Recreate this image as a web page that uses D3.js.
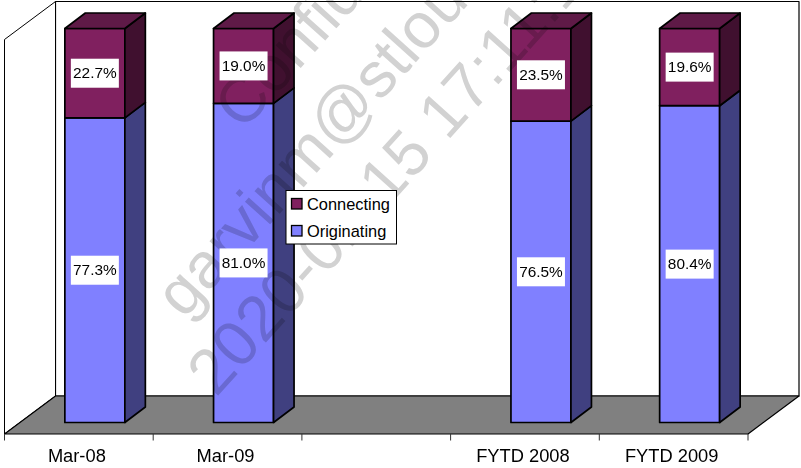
<!DOCTYPE html>
<html>
<head>
<meta charset="utf-8">
<script src="https://cdn.jsdelivr.net/npm/d3@7"></script>
<style>
body { margin: 0; background: #fff; }
text { font-family: "Liberation Sans", Arial, sans-serif; fill: #000; }
.watermark { mix-blend-mode: multiply; }
</style>
</head>
<body>
<svg id="chart" width="801" height="468" style="display:block"></svg>
<script>
var categories = ["Mar-08", "Mar-09", "", "FYTD 2008", "FYTD 2009"];
var originating = [77.3, 81.0, null, 76.5, 80.4];
var connecting = [22.7, 19.0, null, 23.5, 19.6];
var legendNames = ["Connecting", "Originating"];
var watermarkLines = ["Confidential", "garvinm@stlouisfed", "2020-01-15 17:11:15"];

var colors = {
  originating: "#8080ff", originatingSide: "#404080",
  connecting: "#80205f", connectingSide: "#40102f", connectingTop: "#5f1a47"
};

var svg = d3.select("#chart");

// 3d offset between the front plane and the back wall
var depth = {x: 51, y: -38};
var barDepth = {x: 20.5, y: -15.5};
var floorY = 434;

var x = d3.scaleBand().domain(d3.range(categories.length)).range([4.5, 748]);
var y = d3.scaleLinear().domain([0, 100]).range([422.5, 28.5]);
var barWidth = 60;
var barShift = 16; // bars sit a little into the floor, so right of the band centre

function poly(points, fill, sw) {
  return svg.append("polygon")
    .attr("points", points.map(function(p) { return p.join(","); }).join(" "))
    .attr("fill", fill)
    .attr("stroke", "#000")
    .attr("stroke-width", sw)
    .attr("stroke-linejoin", "round");
}

// walls
var left = x.range()[0], right = x.range()[1];
var wallTop = 1.5;
var wallBottom = floorY + depth.y;
poly([[left + depth.x, wallTop], [right + depth.x, wallTop], [right + depth.x, wallBottom], [left + depth.x, wallBottom]], "#fff", 1.2);
poly([[left, wallTop - depth.y], [left + depth.x, wallTop], [left + depth.x, wallBottom], [left, floorY]], "#fff", 1);
poly([[left, floorY], [right, floorY], [right + depth.x, wallBottom], [left + depth.x, wallBottom]], "#808080", 1.2);

// axis ticks and labels
var axisG = svg.append("g");
axisG.selectAll("line").data(d3.range(categories.length + 1)).enter().append("line")
  .attr("x1", function(i) { return left + i * x.step(); })
  .attr("x2", function(i) { return left + i * x.step(); })
  .attr("y1", floorY)
  .attr("y2", floorY + 6.5)
  .attr("stroke", "#333")
  .attr("stroke-width", 1);

axisG.selectAll("text").data(categories).enter().append("text")
  .attr("x", function(d, i) { return x(i) + x.bandwidth() / 2 - 2; })
  .attr("y", 461.5)
  .attr("text-anchor", "middle")
  .attr("font-size", 18.3)
  .text(function(d) { return d; });

// stacked bars
function barCentre(i) {
  return x(i) + x.bandwidth() / 2 + barShift;
}

function drawSegment(i, y0, y1, front, side, top) {
  var cx = barCentre(i);
  var x0 = cx - barWidth / 2, x1 = cx + barWidth / 2;
  var yb = y(y0), yt = y(y1);
  poly([[x0, yb], [x1, yb], [x1, yt], [x0, yt]], front, 1.7);
  poly([[x1, yb], [x1 + barDepth.x, yb + barDepth.y], [x1 + barDepth.x, yt + barDepth.y], [x1, yt]], side, 1.7);
  if (top) {
    poly([[x0, yt], [x1, yt], [x1 + barDepth.x, yt + barDepth.y], [x0 + barDepth.x, yt + barDepth.y]], top, 1.7);
  }
}

function drawLabel(i, y0, y1, label) {
  var cx = barCentre(i);
  var my = (y(y0) + y(y1)) / 2;
  svg.append("rect")
    .attr("x", cx - 24)
    .attr("y", my - 14.5)
    .attr("width", 48)
    .attr("height", 29)
    .attr("fill", "#fff");
  svg.append("text")
    .attr("x", cx)
    .attr("y", my + 5)
    .attr("text-anchor", "middle")
    .attr("font-size", 15.4)
    .text(label);
}

categories.forEach(function(c, i) {
  if (originating[i] == null) return;
  drawSegment(i, 0, originating[i], colors.originating, colors.originatingSide, null);
  drawSegment(i, originating[i], originating[i] + connecting[i], colors.connecting, colors.connectingSide, colors.connectingTop);
});

// watermark goes over the bars but under the data labels and legend
var wm = svg.append("g").attr("class", "watermark");
var wmPos = [[243, 132], [184, 320], [216, 398]];
watermarkLines.forEach(function(line, i) {
  wm.append("text")
    .attr("transform", "translate(" + wmPos[i][0] + "," + wmPos[i][1] + ") rotate(-48)")
    .attr("font-size", 64)
    .style("fill", "#d2d2d2")
    .text(line);
});

categories.forEach(function(c, i) {
  if (originating[i] == null) return;
  drawLabel(i, 0, originating[i], originating[i].toFixed(1) + "%");
  drawLabel(i, originating[i], originating[i] + connecting[i], connecting[i].toFixed(1) + "%");
});

// legend
var legend = svg.append("g").attr("transform", "translate(286,190.5)");
legend.append("rect")
  .attr("x", 0).attr("y", 0)
  .attr("width", 110.5).attr("height", 53.5)
  .attr("fill", "#fff")
  .attr("stroke", "#000")
  .attr("stroke-width", 1);
var swatches = [colors.connecting, colors.originating];
legendNames.forEach(function(name, i) {
  legend.append("rect")
    .attr("x", 5.5).attr("y", 8 + i * 27)
    .attr("width", 10.5).attr("height", 10.5)
    .attr("fill", swatches[i])
    .attr("stroke", "#000")
    .attr("stroke-width", 1.3);
  legend.append("text")
    .attr("x", 21)
    .attr("y", 19.5 + i * 27)
    .attr("font-size", 16.4)
    .text(name);
});
</script>
</body>
</html>
